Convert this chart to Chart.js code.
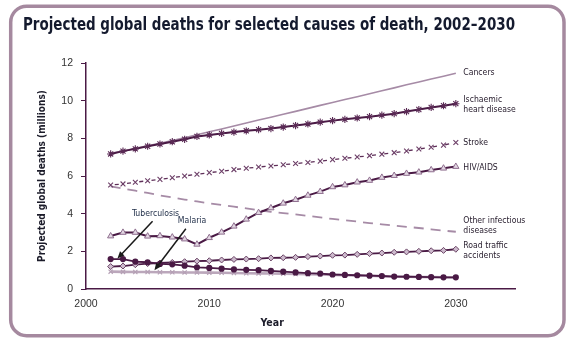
<!DOCTYPE html>
<html><head><meta charset="utf-8">
<script src="https://cdn.jsdelivr.net/npm/chart.js@4.4.1/dist/chart.umd.min.js"></script>
<style>html,body{margin:0;padding:0;background:#fff;overflow:hidden}</style>
</head><body>
<canvas id="c" width="575" height="355"></canvas>
<script>
// ---- data ----
const years = [2002,2003,2004,2005,2006,2007,2008,2009,2010,2011,2012,2013,2014,2015,2016,2017,2018,2019,2020,2021,2022,2023,2024,2025,2026,2027,2028,2029,2030];
const cancers = [7.2,7.33,7.47,7.6,7.74,7.88,8.03,8.19,8.35,8.5,8.66,8.81,8.97,9.12,9.28,9.43,9.59,9.75,9.9,10.06,10.21,10.37,10.53,10.68,10.84,10.99,11.15,11.3,11.46];
const ischaemic = [7.17,7.32,7.44,7.58,7.7,7.82,7.95,8.1,8.18,8.26,8.33,8.4,8.46,8.52,8.6,8.68,8.76,8.86,8.94,9.01,9.08,9.15,9.23,9.31,9.42,9.53,9.64,9.73,9.84];
const stroke = [5.52,5.58,5.67,5.75,5.82,5.91,6.0,6.09,6.18,6.25,6.34,6.41,6.48,6.53,6.6,6.66,6.72,6.79,6.87,6.94,7.01,7.08,7.16,7.24,7.33,7.43,7.53,7.64,7.78];
const hivAids = [2.81,3.0,3.0,2.8,2.82,2.75,2.65,2.37,2.72,3.01,3.33,3.7,4.05,4.3,4.55,4.74,4.97,5.17,5.42,5.52,5.67,5.76,5.92,6.02,6.13,6.2,6.32,6.41,6.5];
const otherInfectious = [5.45,5.33,5.22,5.1,4.97,4.86,4.75,4.65,4.55,4.46,4.37,4.28,4.18,4.1,4.03,3.96,3.88,3.8,3.72,3.65,3.58,3.5,3.43,3.37,3.3,3.24,3.17,3.1,3.04];
const roadTraffic = [1.19,1.22,1.29,1.35,1.38,1.41,1.45,1.48,1.5,1.54,1.57,1.59,1.61,1.65,1.66,1.68,1.72,1.75,1.79,1.8,1.84,1.88,1.91,1.95,1.97,2.0,2.03,2.05,2.11];
const tuberculosis = [1.59,1.59,1.45,1.42,1.33,1.31,1.24,1.15,1.12,1.08,1.04,1.02,1.0,0.96,0.92,0.88,0.84,0.82,0.77,0.75,0.73,0.71,0.69,0.66,0.65,0.64,0.63,0.62,0.62];
const malaria = [0.92,0.91,0.9,0.9,0.89,0.89,0.88,0.88,0.87,0.86,0.85,0.84,0.83,0.82,0.81,0.8,0.78,0.77,0.75,0.73,0.72,0.7,0.68,0.66,0.65,0.64,0.63,0.62,0.61];
const xTickValues = [2000,2010,2020,2030];
const xTickLabels = ['2000','2010','2020','2030'];
const yTickValues = [0,2,4,6,8,10,12];
const yTickLabels = ['0','2','4','6','8','10','12'];
const titleText = 'Projected global deaths for selected causes of death, 2002\u20132030';
const yTitle = 'Projected global deaths (millions)';
const xTitle = 'Year';

// ---- styles ----
const DARK = '#4a1a45';
const MAUVE = '#a68ba6';
const LIGHT = '#bba7bb';
const NARROW = "'Liberation Sans Narrow','Arial Narrow','DejaVu Sans Condensed',sans-serif";
const SANS = "'Liberation Sans',Arial,sans-serif";
const LABEL_COL = '#2a2030';

const pts = arr => arr.map((v,i)=>({x:years[i], y:v}));

const datasets = [
  {label:'Tuberculosis', data:pts(tuberculosis), borderColor:DARK, borderWidth:1.8, pointStyle:'circle', pointRadius:2.2, pointBackgroundColor:DARK, pointBorderColor:DARK, order:1},
  {label:'Road traffic accidents', data:pts(roadTraffic), borderColor:DARK, borderWidth:1.8, pointStyle:'rectRot', pointRadius:3, pointBackgroundColor:'#cdbacd', pointBorderColor:'#6a4465', pointBorderWidth:1, order:2},
  {label:'HIV/AIDS', data:pts(hivAids), borderColor:DARK, borderWidth:2, pointStyle:'triangle', pointRadius:3.6, pointBackgroundColor:'#e2d6e2', pointBorderColor:'#8f6f8f', pointBorderWidth:1, order:3},
  {label:'Ischaemic heart disease', data:pts(ischaemic), borderColor:DARK, borderWidth:2, pointStyle:'star', pointRadius:3.6, pointBorderColor:'#5a2a55', pointBorderWidth:1.1, order:4},
  {label:'Stroke', data:pts(stroke), borderColor:'#5e2e58', borderWidth:1.3, borderDash:[4,8.33], borderDashOffset:8.2, pointStyle:'crossRot', pointRadius:3.4, pointBorderColor:'#6b3d66', pointBorderWidth:1.1, order:5},
  {label:'Malaria', data:pts(malaria), borderColor:LIGHT, borderWidth:2.6, pointStyle:'crossRot', pointRadius:3, pointBorderColor:'#b5a0b5', pointBorderWidth:1.2, order:6},
  {label:'Other infectious diseases', data:pts(otherInfectious), borderColor:MAUVE, borderWidth:1.8, borderDash:[10,7], pointRadius:0, order:7},
  {label:'Cancers', data:pts(cancers), borderColor:MAUVE, borderWidth:1.6, pointRadius:0, order:8}
];
datasets.forEach(d=>{d.fill=false; d.tension=0; d.pointHoverRadius=d.pointRadius;});

const endLabels = [
  {ds:'Cancers', lines:['Cancers'], dy:[0]},
  {ds:'Ischaemic heart disease', lines:['Ischaemic','heart disease'], dy:[-3.5,6.5]},
  {ds:'Stroke', lines:['Stroke'], dy:[0.5]},
  {ds:'HIV/AIDS', lines:['HIV/AIDS'], dy:[1]},
  {ds:'Other infectious diseases', lines:['Other infectious','diseases'], dy:[-10.5,-0.5]},
  {ds:'Road traffic accidents', lines:['Road traffic','accidents'], dy:[-3.5,6.7]}
];
const callouts = [
  {text:'Tuberculosis', at:[2005.64,4.02], from:[2005.4,3.6], to:[2002.55,1.62]},
  {text:'Malaria', at:[2008.6,3.61], from:[2008.1,3.2], to:[2005.55,1.0]}
];

const decor = {
  id:'decor',
  beforeDraw(chart){
    const ctx = chart.ctx;
    ctx.save();
    ctx.fillStyle='#fff'; ctx.fillRect(0,0,chart.width,chart.height);
    ctx.strokeStyle='#a5899f'; ctx.lineWidth=3.5;
    ctx.beginPath(); ctx.roundRect(10.7,6.2,553.3,329.5,16); ctx.stroke();
    ctx.restore();
  },
  afterDatasetsDraw(chart){
    const ctx = chart.ctx, xs = chart.scales.x, ys = chart.scales.y;
    ctx.save();
    ctx.font = "8.6px " + NARROW; ctx.fillStyle = LABEL_COL; ctx.textAlign='left'; ctx.textBaseline='middle';
    endLabels.forEach(l=>{
      const ds = chart.data.datasets.find(d=>d.label===l.ds);
      const last = ds.data[ds.data.length-1];
      const px = xs.getPixelForValue(last.x)+7.5, py = ys.getPixelForValue(last.y);
      l.lines.forEach((t,i)=>ctx.fillText(t, px, py+l.dy[i]));
    });
    callouts.forEach(c=>{
      ctx.font = "8.6px " + NARROW; ctx.fillStyle='#22304a'; ctx.textAlign='center';
      ctx.fillText(c.text, xs.getPixelForValue(c.at[0]), ys.getPixelForValue(c.at[1]));
      const x1=xs.getPixelForValue(c.from[0]), y1=ys.getPixelForValue(c.from[1]);
      const x2=xs.getPixelForValue(c.to[0]), y2=ys.getPixelForValue(c.to[1]);
      const ang=Math.atan2(y2-y1,x2-x1), hl=7, hw=3;
      ctx.strokeStyle='#1a1a1a'; ctx.fillStyle='#1a1a1a'; ctx.lineWidth=1.5;
      ctx.beginPath(); ctx.moveTo(x1,y1); ctx.lineTo(x2-Math.cos(ang)*hl*0.8,y2-Math.sin(ang)*hl*0.8); ctx.stroke();
      ctx.beginPath(); ctx.moveTo(x2,y2);
      ctx.lineTo(x2-Math.cos(ang)*hl+Math.sin(ang)*hw, y2-Math.sin(ang)*hl-Math.cos(ang)*hw);
      ctx.lineTo(x2-Math.cos(ang)*hl-Math.sin(ang)*hw, y2-Math.sin(ang)*hl+Math.cos(ang)*hw);
      ctx.closePath(); ctx.fill();
    });
    ctx.font = "bold 10.5px " + NARROW; ctx.fillStyle='#1c1c2a'; ctx.textAlign='center'; ctx.textBaseline='middle';
    ctx.fillText(xTitle, xs.getPixelForValue(2015.1), chart.chartArea.bottom+34);
    ctx.restore();
  }
};

new Chart(document.getElementById('c'), {
  type:'line',
  data:{datasets},
  plugins:[decor],
  options:{
    responsive:false, animation:false, devicePixelRatio:1,
    layout:{padding:{left:23, right:60, top:4, bottom:0}},
    plugins:{
      legend:{display:false}, tooltip:{enabled:false},
      title:{display:true, text:titleText, align:'start', color:'#141a2e',
        font:{family:NARROW, size:17, weight:'bold'}, padding:{top:11.5, bottom:27.1}}
    },
    scales:{
      x:{type:'linear', min:2000, max:2034.8,
        afterFit(s){ s.height = 66; },
        afterBuildTicks(s){ s.ticks = xTickValues.map(v=>({value:v})); },
        ticks:{callback:(v)=>{const i=xTickValues.indexOf(v); return i<0?'':xTickLabels[i];}, color:'#333', font:{family:SANS, size:10.5}, padding:9, maxRotation:0, autoSkip:false},
        grid:{display:false, drawTicks:false},
        border:{display:true, color:DARK, width:1.5},
        title:{display:false}
      },
      y:{min:0, max:12,
        afterFit(s){ s.width = 63; },
        afterBuildTicks(s){ s.ticks = yTickValues.map(v=>({value:v})); },
        ticks:{callback:(v)=>{const i=yTickValues.indexOf(v); return i<0?'':yTickLabels[i];}, color:'#333', font:{family:SANS, size:10.5}, padding:8, autoSkip:false},
        grid:{display:true, drawOnChartArea:false, drawTicks:true, tickLength:5, color:DARK, lineWidth:1},
        border:{display:true, color:DARK, width:1.5},
        title:{display:true, text:yTitle, color:'#1c1c2a', font:{family:NARROW, size:10, weight:'bold'}, padding:{top:13, bottom:0}}
      }
    }
  }
});
</script>
</body></html>
